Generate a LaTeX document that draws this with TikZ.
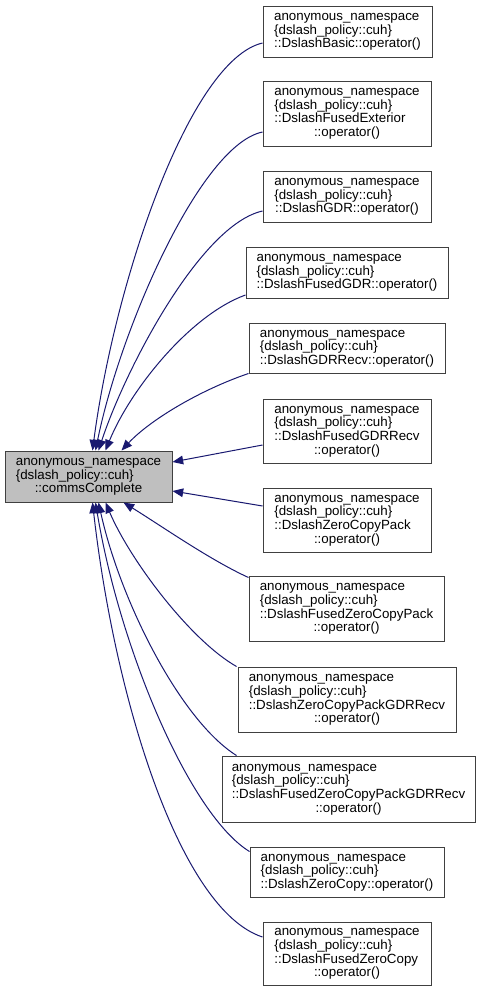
\documentclass[tikz,border=0pt]{standalone}
\usepackage{fontspec}
\setmainfont{Liberation Sans}
\usetikzlibrary{arrows.meta,calc}
\definecolor{edgeblue}{HTML}{191970}
\definecolor{boxborder}{HTML}{404040}
\definecolor{mainfill}{HTML}{BFBFBF}
\newcommand{\lbltxt}[2]{\begin{tabular}{@{}l@{}}#1\\\multicolumn{1}{@{}c@{}}{#2}\end{tabular}}
\newcommand{\bx}[7][]{\node[box,#1,minimum width={(#5-#3)*0.75pt},minimum height={(#6-#4)*0.75pt}] (#2) at ({(#3+#5)/2},{(#4+#6)/2}) {#7};}
\begin{document}
\begin{tikzpicture}[x=0.75pt,y=-0.75pt,
  box/.style={draw=boxborder,line width=0.75pt,fill=white,inner sep=0pt,align=center,
    font=\fontsize{10pt}{10pt}\selectfont},
  mainbox/.style={fill=mainfill},
  edge/.style={draw=edgeblue,line width=0.75pt,{Triangle[length=8pt,width=6.5pt]}-}]
\useasboundingbox (0,0) rectangle (480,992);
\bx[mainbox]{main}{5}{451}{172}{502}{\lbltxt{anonymous\_namespace\\\{dslash\_policy::cuh\}}{::commsComplete}}
\bx{b1}{263}{6}{432}{57}{\lbltxt{anonymous\_namespace\\\{dslash\_policy::cuh\}}{::DslashBasic::operator()}}
\bx{b2}{263}{81}{431}{146}{\lbltxt{anonymous\_namespace\\\{dslash\_policy::cuh\}\\::DslashFusedExterior}{::operator()}}
\bx{b3}{263}{171}{431}{222}{\lbltxt{anonymous\_namespace\\\{dslash\_policy::cuh\}}{::DslashGDR::operator()}}
\bx{b4}{246}{247}{448}{298}{\lbltxt{anonymous\_namespace\\\{dslash\_policy::cuh\}}{::DslashFusedGDR::operator()}}
\bx{b5}{249}{323}{445}{373}{\lbltxt{anonymous\_namespace\\\{dslash\_policy::cuh\}}{::DslashGDRRecv::operator()}}
\bx{b6}{263}{399}{431}{463}{\lbltxt{anonymous\_namespace\\\{dslash\_policy::cuh\}\\::DslashFusedGDRRecv}{::operator()}}
\bx{b7}{263}{488}{431}{552}{\lbltxt{anonymous\_namespace\\\{dslash\_policy::cuh\}\\::DslashZeroCopyPack}{::operator()}}
\bx{b8}{249}{576}{444}{641}{\lbltxt{anonymous\_namespace\\\{dslash\_policy::cuh\}\\::DslashFusedZeroCopyPack}{::operator()}}
\bx{b9}{238}{667}{456}{732}{\lbltxt{anonymous\_namespace\\\{dslash\_policy::cuh\}\\::DslashZeroCopyPackGDRRecv}{::operator()}}
\bx{b10}{222}{756}{475}{822}{\lbltxt{anonymous\_namespace\\\{dslash\_policy::cuh\}\\::DslashFusedZeroCopyPackGDRRecv}{::operator()}}
\bx{b11}{250}{847}{444}{897}{\lbltxt{anonymous\_namespace\\\{dslash\_policy::cuh\}}{::DslashZeroCopy::operator()}}
\bx{b12}{263}{922}{431}{985}{\lbltxt{anonymous\_namespace\\\{dslash\_policy::cuh\}\\::DslashFusedZeroCopy}{::operator()}}
% connectors (arrowhead at main)
\draw[edge] ($(main.north west)+(88,0)$) .. controls (115,280) and (190,60) .. ($(b1.west)+(0,11.5)$);
\draw[edge] ($(main.north west)+(91,0)$) .. controls (120,330) and (200,145) .. ($(b2.west)+(0,18.5)$);
\draw[edge] ($(main.north west)+(94,0)$) .. controls (125,370) and (200,225) .. ($(b3.west)+(0,14.5)$);
\draw[edge] ($(main.north west)+(101,0)$) .. controls (130,390) and (190,315) .. ($(b4.west)+(0,22.5)$);
\draw[edge] ($(main.north west)+(117,0)$) .. controls (150,420) and (200,390) .. (b5.south west);
\draw[edge] ($(main.east)+(0,-14.5)$) -- ($(b6.west)+(0,14)$);
\draw[edge] ($(main.east)+(0,14.5)$) -- ($(b7.west)+(0,-14)$);
\draw[edge] ($(main.south west)+(119,0)$) .. controls (160,525) and (210,560) .. ($(b8.north west)+(0,2)$);
\draw[edge] ($(main.south west)+(101,0)$) .. controls (130,560) and (190,640) .. ($(b9.north west)+(-1,0)$);
\draw[edge] ($(main.south west)+(94,0)$) .. controls (120,600) and (180,720) .. ($(b10.north west)+(15,0)$);
\draw[edge] ($(main.south west)+(91,0)$) .. controls (120,650) and (190,815) .. ($(b11.north west)+(0,5)$);
\draw[edge] ($(main.south west)+(88,0)$) .. controls (115,700) and (180,910) .. ($(b12.west)+(0,-16.5)$);
\end{tikzpicture}
\end{document}
